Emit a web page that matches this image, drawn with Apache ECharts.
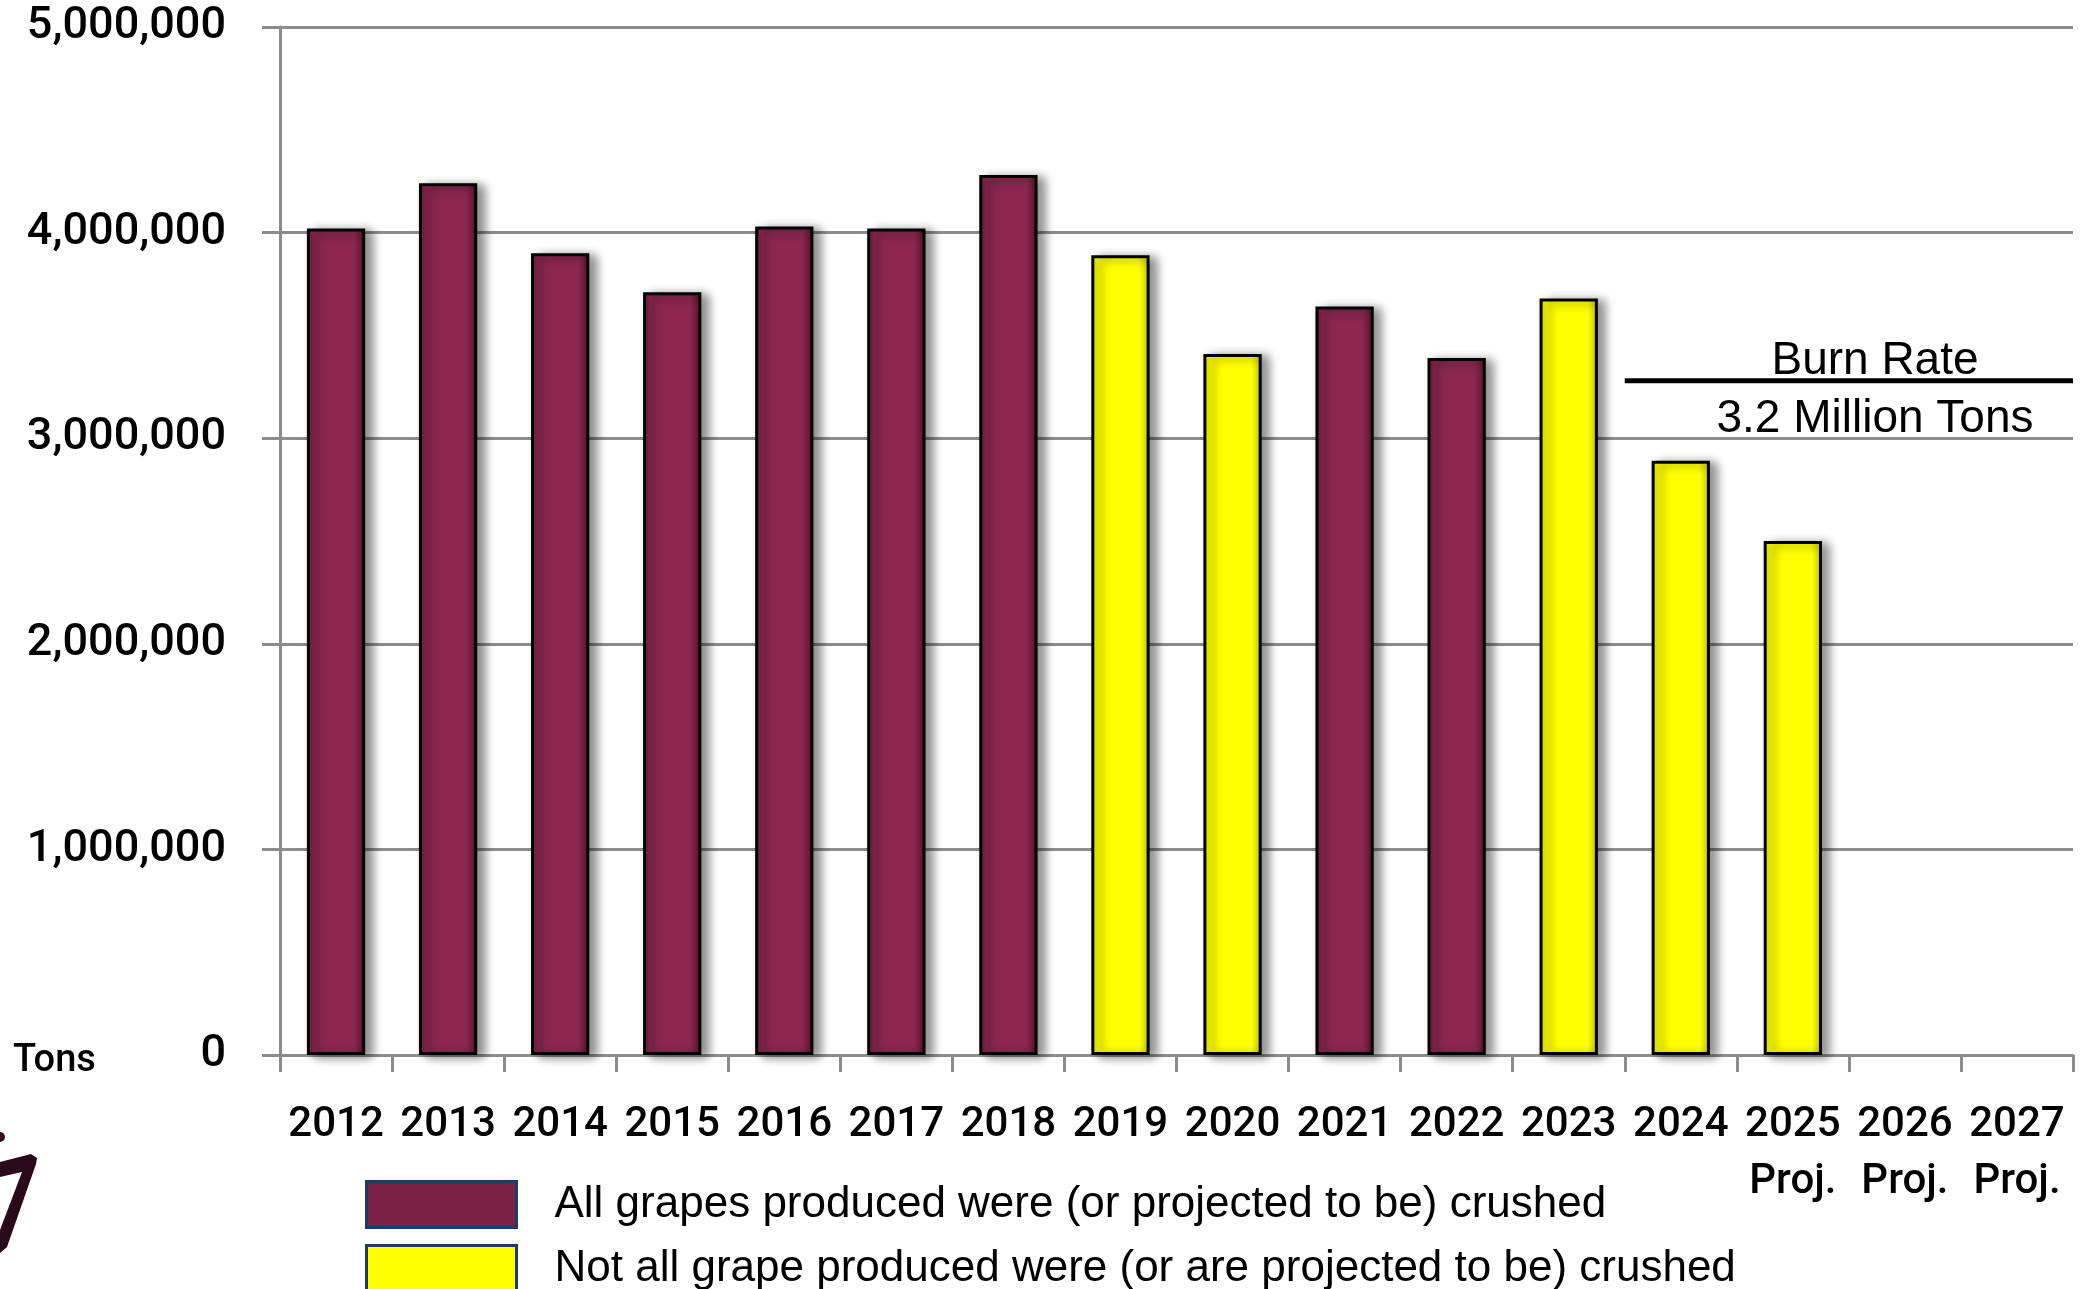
<!DOCTYPE html>
<html>
<head>
<meta charset="utf-8">
<title>Grape crush</title>
<script src="https://cdn.jsdelivr.net/npm/echarts@6/dist/echarts.min.js"></script>
<style>
  html, body { margin: 0; padding: 0; background: #fff; }
  #main { width: 2088px; height: 1289px; }
</style>
</head>
<body>
<div id="main"></div>
<script>
// categories
var years = ['2012', '2013', '2014', '2015', '2016', '2017', '2018', '2019',
  '2020', '2021', '2022', '2023', '2024', '2025', '2026', '2027'];
var projYears = ['2025', '2026', '2027'];

// tons crushed, split by colour
var allCrushed = [4020000, 4240000, 3900000, 3710000, 4030000, 4020000, 4280000, null,
  null, 3640000, 3390000, null, null, null, null, null];
var notAllCrushed = [null, null, null, null, null, null, null, 3890000,
  3410000, null, null, 3680000, 2890000, 2500000, null, null];

// burn rate line (drawn from 2024 to the end)
var burnLine = [[12, 3280000], [16, 3280000]];

var seriesNames = [
  'All grapes produced were (or projected to be) crushed',
  'Not all grape produced were (or are projected to be) crushed'
];

var numFont = 'Roboto';
var txtFont = "'Liberation Sans', Arial, sans-serif";

function grad(edge, mid, dark) {
  return new echarts.graphic.LinearGradient(0, 0, 1, 0, [
    { offset: 0, color: edge },
    { offset: 0.12, color: mid },
    { offset: 0.82, color: mid },
    { offset: 1, color: dark }
  ]);
}

// one legend box per entry so they stack like the original
function legendBox(name, fill, top) {
  return {
    orient: 'vertical',
    left: 365,
    top: top,
    padding: 0,
    itemWidth: 150,
    itemHeight: 46,
    icon: 'rect',
    selectedMode: false,
    textStyle: { fontFamily: txtFont, fontSize: 44, color: '#000', padding: [0, 0, 0, 33] },
    data: [{ name: name, itemStyle: { color: fill, borderColor: '#233866', borderWidth: 3, shadowBlur: 0, shadowOffsetX: 0, shadowOffsetY: 0 } }]
  };
}

var chart = echarts.init(document.getElementById('main'));

var option = {
  backgroundColor: '#ffffff',
  animation: false,
  grid: { left: 280, right: 15, top: 27, bottom: 234 },
  legend: [
    legendBox(seriesNames[0], '#7b2143', 1180),
    legendBox(seriesNames[1], '#ffff00', 1244)
  ],
  xAxis: [{
    type: 'category',
    data: years,
    boundaryGap: true,
    axisLine: { lineStyle: { color: '#8c8c8c', width: 3 } },
    axisTick: { show: true, interval: 0, length: 17, lineStyle: { color: '#8c8c8c', width: 3 } },
    axisLabel: {
      interval: 0,
      margin: 42,
      color: '#000',
      fontFamily: numFont,
      fontWeight: 500,
      fontSize: 42,
      lineHeight: 57,
      verticalAlign: 'top',
      formatter: function (v) {
        return projYears.indexOf(v) >= 0 ? v + '\nProj.' : v;
      }
    }
  }, {
    type: 'value',
    min: 0,
    max: 16,
    show: false
  }],
  yAxis: {
    type: 'value',
    min: 0,
    max: 5000000,
    interval: 1000000,
    axisLine: { show: true, lineStyle: { color: '#8c8c8c', width: 3 } },
    axisTick: { show: true, length: 18, lineStyle: { color: '#8c8c8c', width: 3 } },
    splitLine: { lineStyle: { color: '#8c8c8c', width: 3 } },
    axisLabel: {
      margin: 54,
      color: '#000',
      fontFamily: numFont,
      fontWeight: 500,
      fontSize: 45,
      formatter: function (v) { return v.toLocaleString('en-US'); }
    }
  },
  series: [{
    name: seriesNames[0],
    type: 'bar',
    data: allCrushed,
    barWidth: '52%',
    barGap: '-100%',
    itemStyle: {
      color: grad('#6a1a3a', '#8a2650', '#4e1229'),
      borderColor: '#000',
      borderWidth: 3,
      shadowColor: 'rgba(0,0,0,0.45)',
      shadowBlur: 10,
      shadowOffsetX: 7,
      shadowOffsetY: 2
    }
  }, {
    name: seriesNames[1],
    type: 'bar',
    data: notAllCrushed,
    barWidth: '52%',
    barGap: '-100%',
    itemStyle: {
      color: grad('#dede00', '#ffff00', '#c4c400'),
      borderColor: '#000',
      borderWidth: 3,
      shadowColor: 'rgba(0,0,0,0.45)',
      shadowBlur: 10,
      shadowOffsetX: 7,
      shadowOffsetY: 2
    }
  }, {
    name: 'Burn Rate',
    type: 'line',
    xAxisIndex: 1,
    data: burnLine,
    symbol: 'none',
    silent: true,
    lineStyle: { color: '#000', width: 5 }
  }],
  graphic: [{
    type: 'text',
    left: 13,
    top: 1042,
    style: { text: 'Tons', fontFamily: numFont, fontWeight: 500, fontSize: 38, fill: '#000' }
  }, {
    type: 'text',
    x: 1875,
    y: 384,
    style: { text: 'Burn Rate', fontFamily: txtFont, fontSize: 46, fill: '#000', align: 'center', verticalAlign: 'bottom' }
  }, {
    type: 'text',
    x: 1875,
    y: 396,
    style: { text: '3.2 Million Tons', fontFamily: txtFont, fontSize: 46, fill: '#000', align: 'center', verticalAlign: 'top' }
  }, {
    // cropped logo fragment at the bottom-left corner
    type: 'polygon',
    shape: { points: [[0, 1162], [31, 1154], [37, 1158], [36, 1164], [7, 1247], [0, 1253], [0, 1230], [22, 1172], [0, 1177]] },
    style: { fill: '#2a0a18' }
  }, {
    type: 'circle',
    shape: { cx: 0, cy: 1137, r: 5 },
    style: { fill: '#3a0e22' }
  }]
};

chart.setOption(option);
</script>
</body>
</html>
